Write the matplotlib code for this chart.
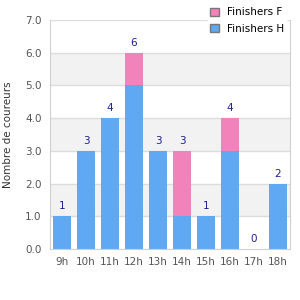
import matplotlib.pyplot as plt
from matplotlib.patches import Patch

hours = ['9h', '10h', '11h', '12h', '13h', '14h', '15h', '16h', '17h', '18h']
finishers_h = [1, 3, 4, 5, 3, 1, 1, 3, 0, 2]
finishers_f = [0, 0, 0, 1, 0, 2, 0, 1, 0, 0]

blue = '#5fa8f4'
pink = '#f283ba'
grey_txt = '#555555'

fig = plt.figure(figsize=(3, 3), dpi=100)
ax = fig.add_axes([50/300, 51/300, 240/300, 229/300])

# alternating bands
for y0 in (1, 3, 5):
    ax.axhspan(y0, y0 + 1, color='#f2f2f2', zorder=0, lw=0)
for y in range(1, 8):
    ax.axhline(y, color='#dddddd', lw=1, zorder=0.5)

x = range(len(hours))
ax.bar(x, finishers_h, width=0.75, color=blue, zorder=2)
ax.bar(x, finishers_f, width=0.75, bottom=finishers_h, color=pink, zorder=2)

for i, (h, f) in enumerate(zip(finishers_h, finishers_f)):
    ax.text(i, h + f + 0.15, str(h + f), ha='center', va='bottom',
            fontsize=7.5, color='#1f1f8f')

ax.set_xlim(-0.5, 9.5)
ax.set_ylim(0, 7)
ax.set_yticks(range(8))
ax.set_yticklabels([f'{v:.1f}' for v in range(8)])
ax.set_xticks(list(x))
ax.set_xticklabels(hours)
ax.tick_params(length=0, labelsize=7.5, labelcolor=grey_txt, pad=6)
ax.set_ylabel('Nombre de coureurs', fontsize=7.5, color='#333333', labelpad=9)

for s in ('left', 'bottom', 'right'):
    ax.spines[s].set_color('#d0d0d0')
ax.spines['top'].set_visible(False)

handles = [Patch(facecolor=pink, edgecolor='#777777', label='Finishers F'),
           Patch(facecolor=blue, edgecolor='#777777', label='Finishers H')]
fig.legend(handles=handles, loc='upper left', bbox_to_anchor=(203/300, 1.0),
           frameon=True, fontsize=7.5, handlelength=0.8, handleheight=0.8,
           handletextpad=0.8, labelspacing=0.6, borderpad=0.2,
           facecolor='white', edgecolor='white', framealpha=1)

fig.savefig('out.png', dpi=100)
